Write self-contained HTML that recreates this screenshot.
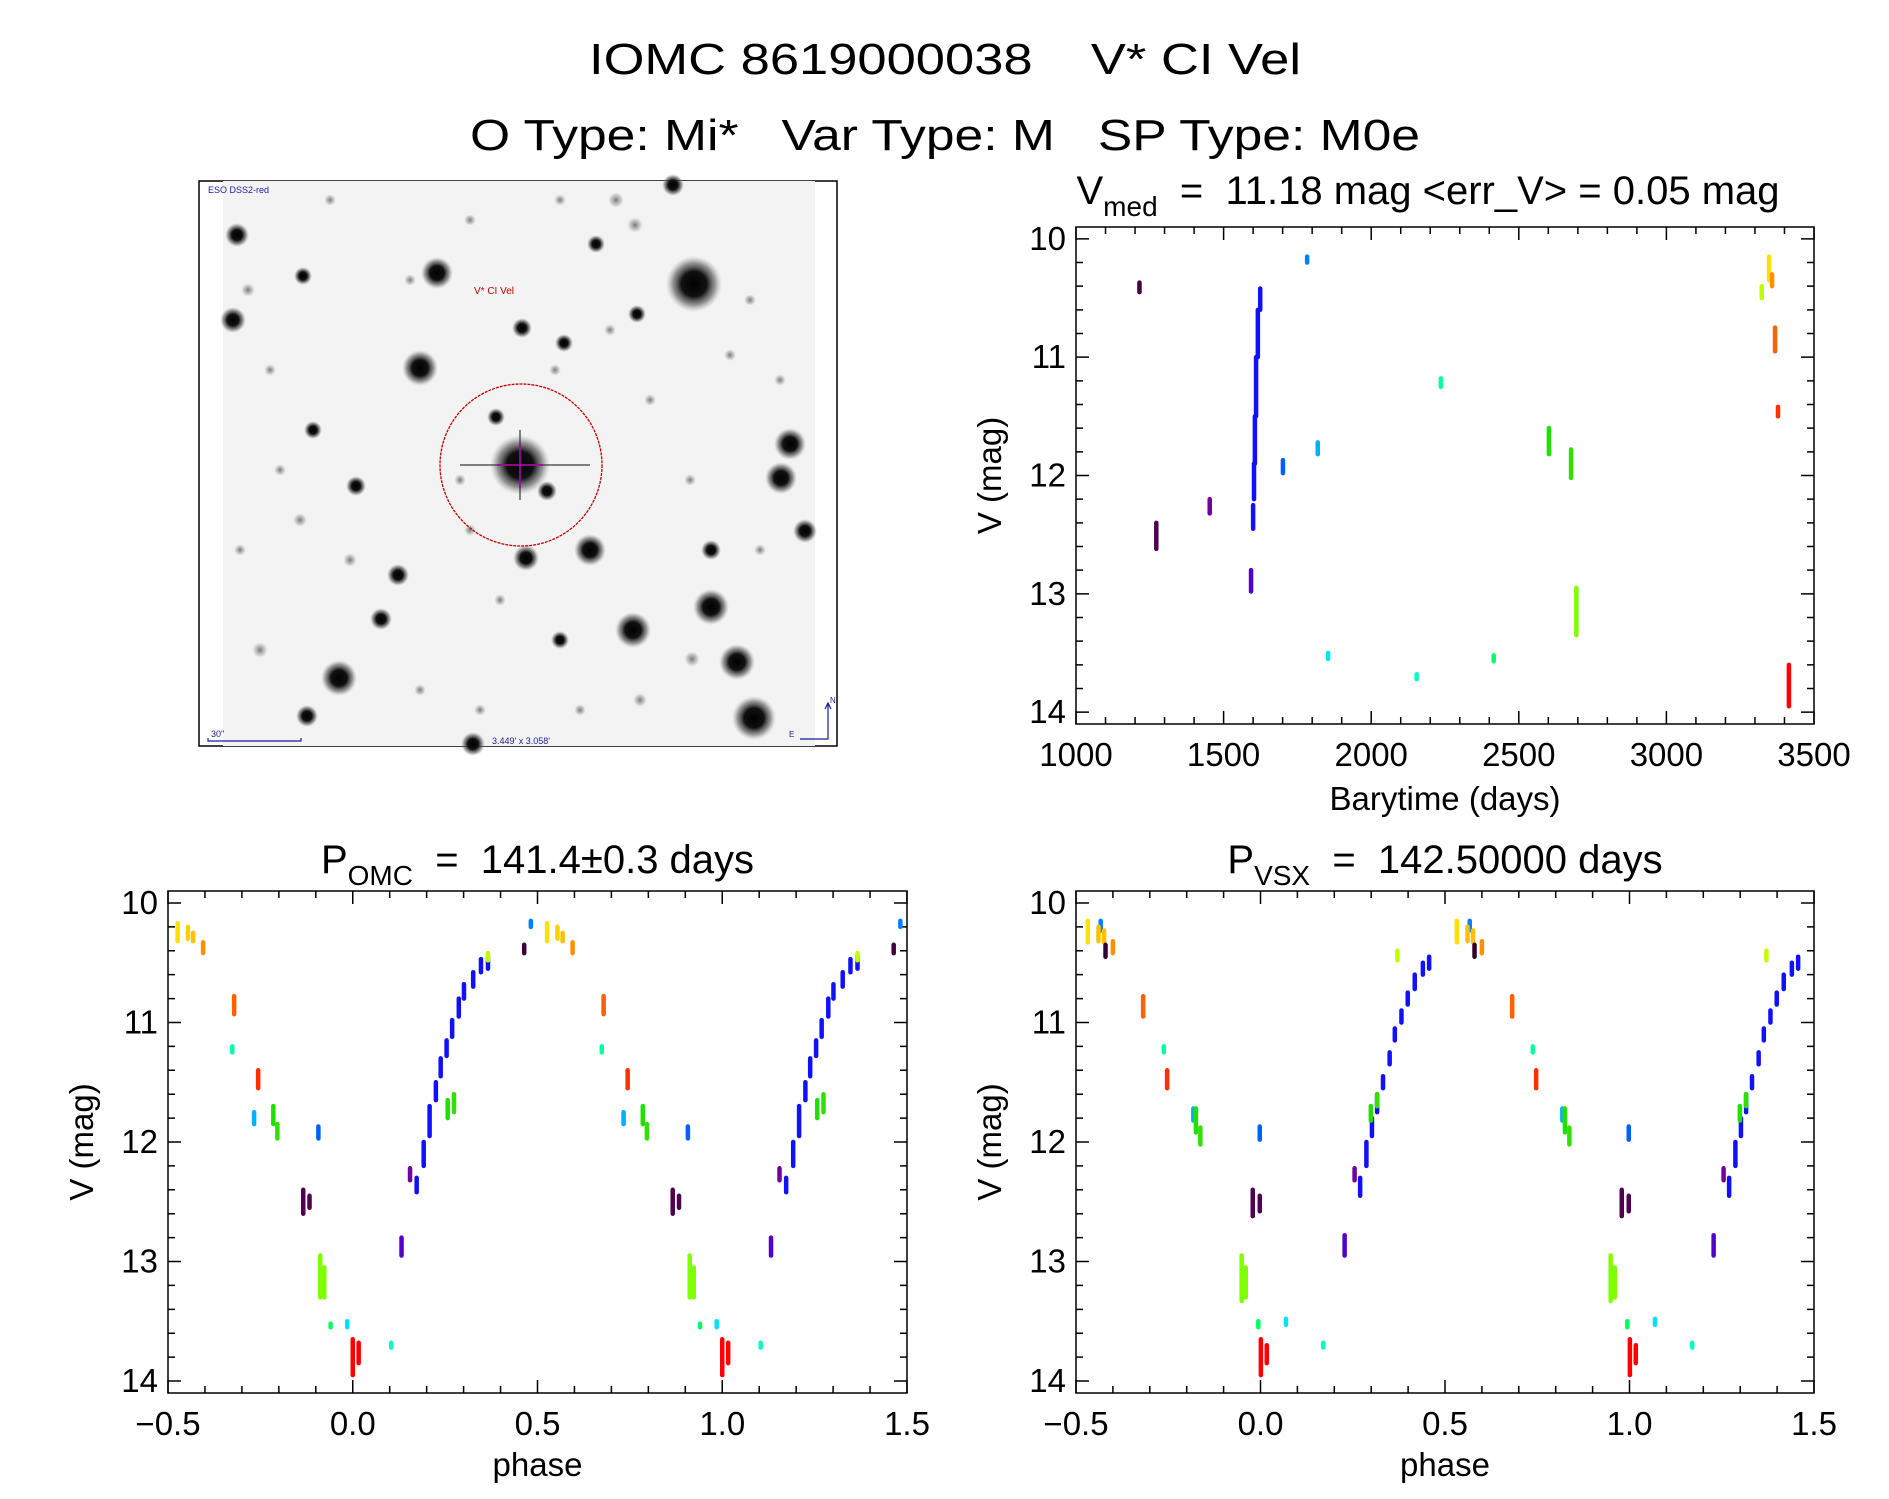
<!DOCTYPE html>
<html><head><meta charset="utf-8"><style>
html,body{margin:0;padding:0;background:#fff;}
svg text{font-family:"Liberation Sans",sans-serif;fill:#000;white-space:pre;}
</style></head><body>
<svg id="fig" width="1889" height="1494" viewBox="0 0 1889 1494" xmlns="http://www.w3.org/2000/svg" xml:space="preserve">
<defs>
<radialGradient id="star"><stop offset="0" stop-color="#000"/><stop offset="0.45" stop-color="#111"/><stop offset="0.75" stop-color="#555" stop-opacity="0.6"/><stop offset="1" stop-color="#999" stop-opacity="0"/></radialGradient>
<radialGradient id="faint"><stop offset="0" stop-color="#777"/><stop offset="0.6" stop-color="#aaa" stop-opacity="0.6"/><stop offset="1" stop-color="#ccc" stop-opacity="0"/></radialGradient>
</defs>
<text x="945" y="74" font-size="44" text-anchor="middle" textLength="712" lengthAdjust="spacingAndGlyphs">IOMC 8619000038    V* CI Vel</text>
<text x="945" y="150" font-size="44" text-anchor="middle" textLength="950" lengthAdjust="spacingAndGlyphs">O Type: Mi*   Var Type: M   SP Type: M0e</text>
<g id="img"></g>
<g id="ts"></g>
<g id="omc"></g>
<g id="vsx"></g>
</svg>
<script>
// ---- time series data ----
const tsTime=[1215,1272,1453,1593,1600,1603,1606,1610,1616,1624,1701,1783,1819,1854,2154,2236,2415,2602,2677,2695,3323,3348,3358,3368,3378,3415];
const tsLo=[10.37,12.40,12.20,12.80,12.25,11.90,11.50,11.00,10.60,10.42,11.87,10.15,11.72,13.50,13.68,11.18,13.52,11.60,11.78,12.95,10.40,10.15,10.30,10.75,11.42,13.60];
const tsHi=[10.45,12.62,12.32,12.98,12.45,12.20,11.90,11.50,11.00,10.60,11.98,10.20,11.82,13.55,13.72,11.25,13.57,11.82,12.02,13.35,10.50,10.35,10.40,10.95,11.50,13.95];
const tsColor=['#400040','#500050','#7000a0','#5000d0','#1010ff','#1010ff','#1010ff','#1010ff','#1010ff','#1010ff','#0060ff','#0080ff','#00b0ff','#00e0ff','#00ffc0','#00ffa0','#00ff60','#20e000','#30e000','#80ff00','#c0ff00','#ffe000','#ff9000','#ff6000','#ff3000','#ff0000'];
// ---- OMC phased data ----
const omcPhase=[-0.474,-0.446,-0.432,-0.405,-0.321,-0.326,-0.256,-0.267,-0.215,-0.204,-0.093,-0.134,-0.117,-0.088,-0.077,-0.060,-0.015,0.000,0.016,0.104,0.132,0.155,0.173,0.192,0.208,0.225,0.238,0.254,0.269,0.287,0.301,0.326,0.347,0.366,0.257,0.274,0.366,0.464,0.482];
const omcLo=[10.17,10.20,10.25,10.33,10.78,11.20,11.40,11.75,11.70,11.85,11.87,12.40,12.45,12.95,13.05,13.52,13.50,13.65,13.68,13.68,12.80,12.22,12.30,12.00,11.70,11.50,11.30,11.15,10.98,10.80,10.68,10.58,10.47,10.45,11.65,11.60,10.42,10.35,10.15];
const omcHi=[10.32,10.30,10.32,10.42,10.93,11.25,11.55,11.85,11.85,11.97,11.97,12.60,12.55,13.30,13.30,13.55,13.55,13.95,13.85,13.72,12.95,12.32,12.42,12.20,11.95,11.65,11.45,11.28,11.12,10.95,10.80,10.70,10.58,10.55,11.80,11.75,10.48,10.42,10.20];
const omcColor=['#ffe000','#ffd000','#ffc000','#ff9000','#ff6000','#00ffa0','#ff3000','#00b0ff','#20e000','#30e000','#0060ff','#500050','#500050','#80ff00','#80ff00','#00ff60','#00e0ff','#ff0000','#ff0000','#00ffc0','#5000d0','#7000a0','#1010ff','#1010ff','#1010ff','#1010ff','#1010ff','#1010ff','#1010ff','#1010ff','#1010ff','#1010ff','#1010ff','#1010ff','#20e000','#30e000','#c0ff00','#400040','#0080ff'];
// ---- VSX phased data ----
const vsxPhase=[-0.468,-0.433,-0.439,-0.424,-0.420,-0.400,-0.318,-0.262,-0.253,-0.182,-0.175,-0.163,-0.002,-0.021,-0.002,-0.051,-0.040,-0.006,0.069,0.001,0.017,0.170,0.228,0.255,0.270,0.287,0.302,0.316,0.332,0.350,0.364,0.382,0.399,0.418,0.440,0.457,0.299,0.316,0.371];
const vsxLo=[10.15,10.15,10.20,10.23,10.35,10.32,10.78,11.20,11.40,11.72,11.72,11.88,11.87,12.40,12.45,12.95,13.05,13.50,13.48,13.65,13.70,13.68,12.78,12.22,12.30,12.00,11.80,11.60,11.45,11.25,11.05,10.90,10.75,10.60,10.50,10.45,11.70,11.60,10.40];
const vsxHi=[10.33,10.23,10.32,10.33,10.45,10.42,10.95,11.25,11.55,11.82,11.92,12.02,11.98,12.62,12.58,13.33,13.30,13.55,13.53,13.95,13.85,13.72,12.95,12.32,12.45,12.20,11.95,11.75,11.55,11.35,11.15,11.00,10.85,10.72,10.60,10.55,11.82,11.70,10.48];
const vsxColor=['#ffe000','#0080ff','#ffc000','#ffc000','#300030','#ff9000','#ff6000','#00ffa0','#ff3000','#00b0ff','#20e000','#30e000','#0060ff','#500050','#500050','#80ff00','#80ff00','#00ff60','#00e0ff','#ff0000','#ff0000','#00ffc0','#5000d0','#7000a0','#1010ff','#1010ff','#1010ff','#1010ff','#1010ff','#1010ff','#1010ff','#1010ff','#1010ff','#1010ff','#1010ff','#1010ff','#20e000','#30e000','#c0ff00'];
const yTicks=[10,11,12,13,14];
const tsXTicks=[1000,1500,2000,2500,3000,3500];
const phXTicks=[-0.5,0.0,0.5,1.0,1.5];
const phXLabels=['\u22120.5','0.0','0.5','1.0','1.5'];

const NS='http://www.w3.org/2000/svg';
function mk(tag,attrs,parent){const e=document.createElementNS(NS,tag);for(const k in attrs)e.setAttribute(k,attrs[k]);parent.appendChild(e);return e;}

function axes(g,box,xmin,xmax,xMajor,xMinor,xTickVals,xTickLabels){
  const sx=v=>box.x0+(v-xmin)/(xmax-xmin)*(box.x1-box.x0);
  const sy=v=>box.y0+(v-9.9)/(14.1-9.9)*(box.y1-box.y0);
  const fr=mk('rect',{x:box.x0,y:box.y0,width:box.x1-box.x0,height:box.y1-box.y0,fill:'none',stroke:'#000','stroke-width':1.5},g);
  
  
  let d='';
  const nx=Math.round((xmax-xmin)/xMinor);
  for(let i=0;i<=nx;i++){const v=xmin+i*xMinor;const X=sx(v);const maj=Math.abs((v-xmin)/xMajor-Math.round((v-xmin)/xMajor))<1e-6;const L=maj?13:7;d+=`M${X} ${box.y1}v${-L}M${X} ${box.y0}v${L}`;}
  for(let i=0;i<=20;i++){const v=10+i*0.2;const Y=sy(v);if(Y>box.y1+0.5)break;const maj=i%5===0;const L=maj?13:7;d+=`M${box.x0} ${Y}h${L}M${box.x1} ${Y}h${-L}`;}
  const t=mk('path',{d:d,stroke:'#000','stroke-width':1.5,fill:'none'},g);
  
  
  xTickVals.forEach((v,i)=>{const tx=mk('text',{x:sx(v),y:box.y1+42,'font-size':33,'text-anchor':'middle'},g);tx.textContent=xTickLabels[i];
    
    });
  yTicks.forEach(v=>{const tx=mk('text',{x:box.x0-10,y:sy(v)+11,'font-size':33,'text-anchor':'end'},g);tx.textContent=String(v);
    
    });
  const yl=mk('text',{x:0,y:0,'font-size':33,'text-anchor':'middle',transform:`translate(${box.x0-75},${(box.y0+box.y1)/2}) rotate(-90)`},g);
  yl.textContent='V (mag)';
  
  
  return {sx,sy};
}
function marks(g,sx,sy,xs,lo,hi,col,shift){
  const pts=mk('g',{},g);
  
  
  const offs=shift?[0,1]:[0];
  offs.forEach(o=>{xs.forEach((x,i)=>{if(shift&&x+o>1.5)return;const X=sx(x+o);
    const l=mk('line',{x1:X,x2:X,y1:sy(lo[i]),y2:sy(hi[i]),stroke:col[i],'stroke-width':4.5,'stroke-linecap':'round'},pts);
    
    });});
}
// Time series
(function(){const g=document.getElementById('ts');
  const box={x0:1076,x1:1814,y0:227,y1:724};
  const a=axes(g,box,1000,3500,500,100,tsXTicks,tsXTicks.map(String));
  marks(g,a.sx,a.sy,tsTime,tsLo,tsHi,tsColor,false);
  const xl=mk('text',{x:(box.x0+box.x1)/2,y:810,'font-size':33,'text-anchor':'middle'},g);xl.textContent='Barytime (days)';
  
  
  const tt=mk('text',{x:1428,y:204,'font-size':40,'text-anchor':'middle'},g);
  tt.innerHTML='V<tspan font-size="28" dy="12">med</tspan><tspan dy="-12">  =  11.18 mag &lt;err_V&gt; = 0.05 mag</tspan>';
  
  
})();
function phasePlot(id,box,xs,lo,hi,col,title,sub){
  const g=document.getElementById(id);
  const a=axes(g,box,-0.5,1.5,0.5,0.1,phXTicks,phXLabels);
  marks(g,a.sx,a.sy,xs,lo,hi,col,true);
  const xl=mk('text',{x:(box.x0+box.x1)/2,y:1476,'font-size':33,'text-anchor':'middle'},g);xl.textContent='phase';
  
  
  const tt=mk('text',{x:(box.x0+box.x1)/2,y:873,'font-size':40,'text-anchor':'middle'},g);
  tt.innerHTML='P<tspan font-size="28" dy="12">'+sub+'</tspan><tspan dy="-12">'+title+'</tspan>';
  
  
}
phasePlot('omc',{x0:168,x1:907,y0:891,y1:1393},omcPhase,omcLo,omcHi,omcColor,'  =  141.4\u00b10.3 days','OMC');
phasePlot('vsx',{x0:1076,x1:1814,y0:891,y1:1393},vsxPhase,vsxLo,vsxHi,vsxColor,'  =  142.50000 days','VSX');

// Sky image
(function(){const g=document.getElementById('img');
  const fr=mk('rect',{x:199,y:181,width:638,height:565,fill:'#fff',stroke:'#000','stroke-width':1.5},g);
  
  
  const bg=mk('rect',{x:223,y:181,width:592,height:565,fill:'#f3f3f3'},g);
  
  
  const stars=[[694,284,28],[420,368,18],[437,273,16],[520,465,30],[790,444,16],[781,478,16],[711,607,18],[633,630,18],[737,662,18],[754,718,22],[339,678,18],[590,550,16],[526,558,13],[233,320,13],[237,235,12],[805,531,12],[473,744,12],[381,619,11],[398,575,11],[307,716,11],[522,328,10],[564,343,9],[596,244,9],[637,314,9],[356,486,10],[313,430,9],[496,417,9],[547,491,10],[673,185,11],[711,550,10],[303,276,9],[616,200,8],[635,225,8],[560,640,9],[692,659,8],[248,290,7],[410,280,6],[555,370,6],[650,400,6],[300,520,7],[270,370,6],[460,480,6],[610,330,6],[730,355,6],[780,380,6],[760,550,6],[640,700,7],[580,710,6],[420,690,6],[260,650,8],[240,550,6],[350,560,7],[470,530,6],[690,480,6],[750,300,6],[560,200,6],[470,220,6],[330,200,6],[280,470,6],[500,600,6],[480,710,6]];
  stars.forEach(s=>{const c=mk('circle',{cx:s[0],cy:s[1],r:s[2],fill:s[2]>=9?'url(#star)':'url(#faint)'},g);
    
    });
  const sp=mk('path',{d:'M460 465H590M520 430V500',stroke:'#333','stroke-width':2,opacity:0.6},g);
  
  
  const cr=mk('path',{d:'M497 465H543M520 443V488',stroke:'#b000b0','stroke-width':1.5},g);
  
  
  const ci=mk('circle',{cx:521,cy:465,r:81,fill:'none',stroke:'#c00000','stroke-width':1.3,'stroke-dasharray':'3 1'},g);
  
  
  const lb=mk('text',{x:494,y:294,'font-size':10,'text-anchor':'middle',style:'fill:#c00000'},g);lb.textContent='V* CI Vel';
  
  
  const so=mk('text',{x:208,y:193,'font-size':9,style:'fill:#1a1a9a'},g);so.textContent='ESO DSS2-red';
  
  
  const sb=mk('path',{d:'M208 738V741H301V738',stroke:'#1a1a9a','stroke-width':1.2,fill:'none'},g);
  
  
  const st=mk('text',{x:211,y:737,'font-size':9,style:'fill:#1a1a9a'},g);st.textContent='30"';
  
  
  const fv=mk('text',{x:521,y:744,'font-size':9,'text-anchor':'middle',style:'fill:#1a1a9a'},g);fv.textContent="3.449' x 3.058'";
  
  
  const cp=mk('path',{d:'M828 704V739H800M825 709L828 703L831 709',stroke:'#1a1a9a','stroke-width':1.2,fill:'none'},g);
  
  
  const cn=mk('text',{x:830,y:703,'font-size':8,style:'fill:#1a1a9a'},g);cn.textContent='N';
  
  
  const ce=mk('text',{x:789,y:737,'font-size':8,style:'fill:#1a1a9a'},g);ce.textContent='E';
  
  
})();
</script>
</body></html>
